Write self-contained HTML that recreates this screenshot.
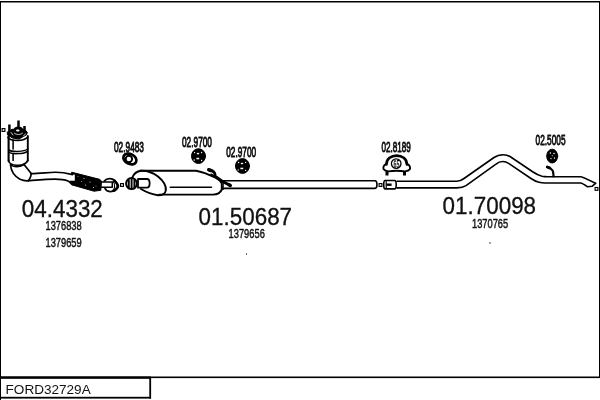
<!DOCTYPE html>
<html><head><meta charset="utf-8">
<style>
html,body{margin:0;padding:0;background:#fff;}
body{width:600px;height:400px;overflow:hidden;font-family:"Liberation Sans",sans-serif;}
svg{display:block;position:absolute;left:0;top:0;filter:grayscale(1);}
text{font-family:"Liberation Sans",sans-serif;fill:#111;}
</style></head><body>
<svg width="600" height="400" viewBox="0 0 600 400">
<rect width="600" height="400" fill="#fff"/>
<!-- frame -->
<g fill="#000">
<rect x="0" y="1" width="1" height="399"/>
<rect x="0" y="1" width="600" height="1.5"/>
<rect x="599" y="1" width="1" height="377"/>
<rect x="0" y="376.5" width="600" height="1.6"/>
<rect x="0" y="376.5" width="151" height="2.3"/>
<rect x="149.3" y="377" width="1.8" height="21.6"/>
<rect x="0" y="396.8" width="151" height="1.8"/>
</g>
<!-- big labels -->
<g font-size="23" stroke="#111" stroke-width=".3">
<text vector-effect="non-scaling-stroke" transform="translate(21.8 217) scale(.975 1)">04.4332</text>
<text vector-effect="non-scaling-stroke" transform="translate(198.6 225.4) scale(.975 1)">01.50687</text>
<text vector-effect="non-scaling-stroke" transform="translate(442.6 214.3) scale(.975 1)">01.70098</text>
</g>
<!-- OEM numbers -->
<g font-size="13.5" stroke="#111" stroke-width=".4">
<text vector-effect="non-scaling-stroke" transform="translate(45.5 229.8) scale(.69 1)">1376838</text>
<text vector-effect="non-scaling-stroke" transform="translate(45.5 246.8) scale(.69 1)">1379659</text>
<text vector-effect="non-scaling-stroke" transform="translate(228.6 238.2) scale(.69 1)">1379656</text>
<text vector-effect="non-scaling-stroke" transform="translate(472 227.8) scale(.69 1)">1370765</text>
</g>
<!-- part labels -->
<g font-size="15" stroke="#111" stroke-width=".75">
<text vector-effect="non-scaling-stroke" transform="translate(114 151.5) scale(.553 1)">02.9483</text>
<text vector-effect="non-scaling-stroke" transform="translate(182 146.5) scale(.553 1)">02.9700</text>
<text vector-effect="non-scaling-stroke" transform="translate(226.2 156.5) scale(.553 1)">02.9700</text>
<text vector-effect="non-scaling-stroke" transform="translate(381.6 151.7) scale(.54 1)">02.8189</text>
<text vector-effect="non-scaling-stroke" transform="translate(535.6 144.6) scale(.553 1)">02.5005</text>
</g>
<text x="5.6" y="393.7" font-size="13.55">FORD32729A</text>
<rect x="246" y="253" width="1" height="2" fill="#666"/>
<rect x="489" y="242" width="2" height="2" fill="#a0a0a0"/>

<!-- drawing -->
<g fill="none" stroke="#000" stroke-width="1.7" stroke-linecap="round" stroke-linejoin="round">
<!-- small squares -->
<g stroke-width="1.15" stroke-linejoin="miter">
<rect x="2.1" y="128.6" width="2.8" height="2.8"/>
<rect x="120.6" y="183.6" width="2.8" height="2.8"/>
<rect x="379.1" y="183.6" width="2.8" height="2.8"/>
<rect x="595.1" y="187.5" width="2.8" height="2.8"/>
</g>
<!-- cat body -->
<path d="M8.6 136V161" stroke-width="2.1"/>
<path d="M27.8 136V160.5" stroke-width="1.9"/>
<path d="M13.1 140V149 M13.1 153.5V160.5" stroke-width="1.55"/>
<path d="M8 137.5C11 141.5 24 141.5 27.8 137"/>
<path d="M8.6 150C12 152 24 152 27.8 149" stroke-width="1.5"/>
<path d="M9.5 152.5C12 154.3 24 154 27.5 151.3" stroke-width="1.5"/>
<path d="M8.6 160.5C9 166 24 168 27.8 160.5"/>
<path d="M10.5 164.5C13 167.5 21 167.5 24 164.5" stroke-width="1.3"/>
<!-- flange -->
<path d="M7.5 132L12 129.3L25 129.6L27.3 132.5L26.5 134.8L19 139L12.5 138L8 135.2Z" fill="#000" stroke-width="1"/>
<ellipse cx="18.4" cy="130" rx="5" ry="3.6" fill="#000" stroke="none"/>
<ellipse cx="17.8" cy="130.4" rx="1.8" ry="1" fill="#fff" stroke="none"/>
<path d="M14.5 133.3C16.5 135 20.5 135 22.5 133.2" stroke="#fff" stroke-width=".8"/>
<path d="M11 132.5L13 135 M23.5 135.8L25.5 134" stroke="#fff" stroke-width=".8"/>
<path d="M9.4 124.5V131 M18.5 120.6V127.5 M24.5 126.1V131.5" stroke-width="2.5" stroke-linecap="butt"/>
<!-- cone -->
<path d="M10.5 165C11 170 14 176 20 179.3C23 180.6 26 181 28.5 180.7"/>
<path d="M24 164.5L31 173.3C31.6 175.5 30 178.5 28.5 180.7"/>
<!-- flex -->
<path d="M72 172.3L99.5 179.3L101.5 181L100.8 190.3L94 191.2L72 184.9L70 182Z" fill="#000" stroke-width="1"/>
<path d="M68.5 174.6H74.8V180.7H68.5Z" fill="#fff" stroke="none"/>
<g fill="#fff" stroke="none">
<circle cx="78" cy="176.5" r=".45"/><circle cx="84" cy="178.5" r=".5"/><circle cx="81.5" cy="181.5" r=".45"/>
<circle cx="90" cy="182" r=".5"/><circle cx="85.5" cy="185" r=".5"/><circle cx="93.5" cy="187.5" r=".5"/><circle cx="96" cy="186" r=".45"/>
</g>
<!-- pipe to flex -->
<path d="M31 173.6C40 173.6 48 172.4 55 172.3C61 172.2 66 173 72.5 174.6" stroke-width="1.6"/>
<path d="M28.5 180.7C40 179.8 48 179.1 55 179.1C61 179.1 65 179.8 68 181C70 182 71 183.5 72 184.5" stroke-width="1.6"/>
<!-- short pipe & flange 1 -->
<path d="M101.5 181.9H112.3V187.2H101.5" stroke-width="1.5"/>
<path d="M104.3 181C105.5 179.5 108 178.5 110 178.6C113.5 178.8 116.5 181.5 118.4 186C118 189 114 191.8 110 191.6C107.5 191.4 105.6 190 105 188.2" stroke-width="1.8"/>
<path d="M114.5 180.6C116 182 117.3 184 117.9 186.1C117.5 187.8 116 189.6 114.3 190.6" stroke-width="2.6"/>
<path d="M113 181.2C114.3 182.5 114.8 184.5 114.6 187C114.4 188.6 113.6 189.8 112.6 190.6" stroke-width="1.2"/>
<!-- flange 2 -->
<ellipse cx="131.5" cy="183.6" rx="5.4" ry="5.5" stroke-width="2"/>
<path d="M128.8 180V187.5 M131.6 179V188.5 M134.4 180V187.5" stroke-width="1.9"/>
<!-- inlet pipe -->
<path d="M138 179H147C150.5 179 150.5 187.7 147 187.7H138Z" stroke-width="1.8"/>
<!-- muffler front face -->
<path d="M132.3 177.5C133.5 174.5 136.5 171.5 141 170.8C147 170.4 153 172.8 158 176.5C163 180.5 166.3 186 165.8 190.5C165.4 193.5 162 195.3 158 195.2C152 194.5 146 192 141 189" stroke-width="2"/>
<!-- muffler body -->
<path d="M140 170.7H196C202 171.6 210 175 216 178C219 179.6 221 181.5 221.8 183.5V189.5C220.5 192.5 217 194.6 213 194.6H159" stroke-width="1.95"/>
<path d="M223.2 183V189.5" stroke-width="1.2"/>
<path d="M170.3 187.2H211.5" stroke-width="1.6"/>
<!-- hanger on muffler -->
<path d="M208.7 169.7C211 170 213.5 171.3 214.6 173C215.3 174.5 215 175.5 215 176.2C219 179.5 224 182.8 230.3 185.4" stroke-width="2.8"/>
<path d="M208.8 169.8L211 170.6 M229 184.8L230.2 185.4" stroke-width="3.4"/>
<path d="M211 174.3L214.5 176" stroke-width="1.6"/>
<!-- mid pipe -->
<path d="M222 180.8H375C377.6 180.8 377.6 188.4 375 188.4H222" stroke-width="1.6"/>
<!-- joint -->
<path d="M385 180.5H394.5C396.8 180.5 396.8 188.9 394.5 188.9H385C383.3 188.9 383.3 180.5 385 180.5Z" stroke-width="1.6"/>
<path d="M386.2 181.5V188" stroke-width="1.2"/>
<path d="M386.5 184.7H391.6" stroke-width="2.4" stroke-linecap="butt"/>
<!-- tail pipe -->
<path d="M397 181.2H457C460 181.2 462 180 464 178.5L494 157.5C497 155.3 500 154.7 503.3 154.7C506 154.7 508 155.3 510 156.5L533 172C536 174 539 175.5 542 176.2C544 176.6 546 176.7 548 176.7H580.7C583 177 587 179 595.5 183.3" stroke-width="1.6"/>
<path d="M397 187.9H457C461 187.9 463.5 187.3 466 185.6L496 164.1C498 162.4 500.5 161.5 502.8 161.5C505 161.5 507 162.3 509 163.6L531 178.5C534 180.5 536.5 181.7 539 182.3C541 182.8 543 183 545 183H580.5C582.5 183.3 585 185 587.6 186.8L592 186.3L595.5 183.3" stroke-width="1.6"/>
<!-- hook on tail -->
<path d="M547.2 167C549 167.5 551.5 168.8 552.6 170.5C553.5 172 553.4 174 553.5 176.5" stroke-width="2.2"/>
<path d="M547.3 167L549.5 167.9" stroke-width="2.9"/>
<!-- gasket 02.9483 -->
<ellipse cx="129.9" cy="159" rx="6.9" ry="4.9" transform="rotate(27 129.9 159)" stroke-width="2.7"/>
<circle cx="128.9" cy="159" r="3.2" stroke-width="1.9"/>
<!-- rubber mounts -->
<g fill="#000" stroke-width="1">
<ellipse cx="198.5" cy="156.1" rx="7" ry="7.4"/>
<ellipse cx="242.5" cy="166" rx="7" ry="7.4"/>
<ellipse cx="552.2" cy="156.1" rx="5.5" ry="6.9"/>
</g>
<g fill="#fff" stroke="none">
<circle cx="194.6" cy="152.6" r=".7"/><ellipse cx="198" cy="153.6" rx="1.3" ry=".8"/><circle cx="201.6" cy="152.5" r=".65"/>
<rect x="196.4" y="157.8" width="2.8" height="1.5"/><circle cx="194.2" cy="160" r=".65"/><circle cx="201.6" cy="160.5" r=".65"/>
<circle cx="238.6" cy="162.5" r=".7"/><ellipse cx="242" cy="163.5" rx="1.3" ry=".8"/><circle cx="245.6" cy="162.4" r=".65"/>
<rect x="240.4" y="167.7" width="2.8" height="1.5"/><circle cx="238.2" cy="169.9" r=".65"/><circle cx="245.6" cy="170.4" r=".65"/>
<circle cx="550.4" cy="153" r=".75"/><circle cx="554" cy="153.4" r=".75"/><circle cx="551" cy="158.6" r=".7"/><circle cx="554.4" cy="158" r=".65"/><circle cx="552.3" cy="155.7" r=".55"/>
</g>
<!-- clamp -->
<path d="M386.4 164.5C386.4 152.6 406.9 152.6 406.9 164.5" stroke-width="2.6"/>
<path d="M386.2 164C383.7 165 382.8 167.5 383.7 169.3C384.7 170.8 386.5 171.2 388.5 171.4C393 170.6 400 170.6 405 171.4C407 171.2 408.8 170.8 409.8 169.3C410.6 167.5 409.8 165 407.2 164" stroke-width="1.9"/>
<circle cx="396.2" cy="163.6" r="4.8" stroke-width="1.3"/>
<path d="M387 171.5V175.5 M404.5 171.5V175.5" stroke-width="3" stroke-linecap="butt"/>
</g>
<text transform="translate(393.5 167.6) scale(.5 1)" font-size="10.6" font-weight="bold">65</text>
</svg>
</body></html>
